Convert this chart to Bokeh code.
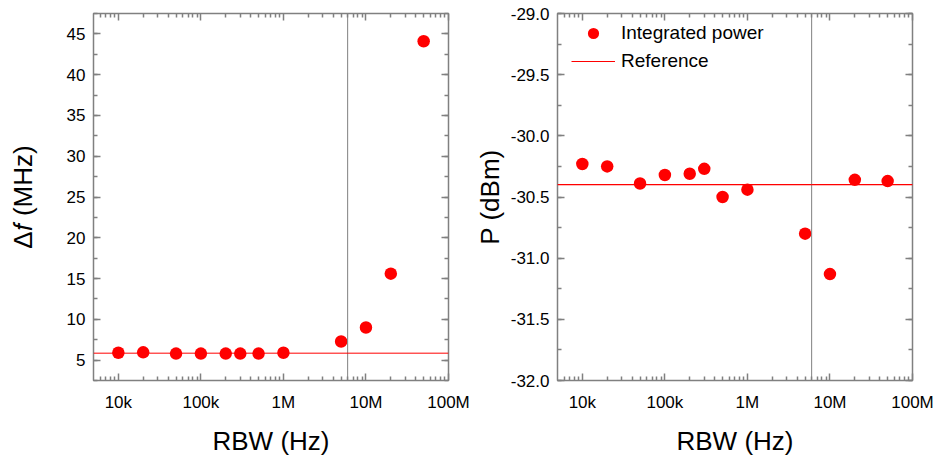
from bokeh.plotting import figure
from bokeh.layouts import row
from bokeh.models import (LogAxis, LinearAxis, FixedTicker, SingleIntervalTicker,
                          Range1d, Legend, LegendItem, NumeralTickFormatter,
                          CustomJSTickFormatter, Span)
from bokeh.embed import file_html
from bokeh.resources import INLINE

# ---------------- data ----------------
rbw_hz = [1e4, 2e4, 5e4, 1e5, 2e5, 3e5, 5e5, 1e6, 5e6, 1e7, 2e7, 5e7]
delta_f_mhz = [5.9, 5.95, 5.8, 5.8, 5.8, 5.8, 5.8, 5.9, 7.28, 9.0, 15.6, 44.1]
power_dbm = [-30.23, -30.25, -30.39, -30.32, -30.31, -30.27, -30.50, -30.44,
             -30.80, -31.13, -30.36, -30.37]
delta_f_ref = 5.85
power_ref = -30.40
rbw_cutoff = 6e6

x_tick_values = [1e4, 1e5, 1e6, 1e7, 1e8]
x_tick_labels = ["10k", "100k", "1M", "10M", "100M"]

X_RANGE = (5e3, 1e8)
FONT = "Liberation Sans"
GRAY = "#808080"
RED = "#ff0000"

minor_x = [m * 10 ** e for e in range(3, 8) for m in range(2, 10)
           if X_RANGE[0] < m * 10 ** e < X_RANGE[1]]


def x_ticker():
    return FixedTicker(ticks=x_tick_values, minor_ticks=minor_x)


def style_axis(ax, hidden=False):
    ax.axis_line_color = None
    ax.major_tick_line_color = GRAY
    ax.minor_tick_line_color = GRAY
    ax.major_tick_line_width = 1.5
    ax.minor_tick_line_width = 1.5
    ax.major_tick_in = 7
    ax.major_tick_out = 0
    ax.minor_tick_in = 4
    ax.minor_tick_out = 0
    ax.major_label_text_font = FONT
    ax.major_label_text_color = "black"
    ax.axis_label_text_font = FONT
    ax.axis_label_text_font_style = "normal"
    ax.axis_label_text_color = "black"
    if hidden:
        ax.formatter = CustomJSTickFormatter(code="return ''")
        ax.major_label_text_font_size = "1px"
        ax.major_label_standoff = 0


def make_fig(width, min_left, min_right, y_range, y_ticker, y_label,
             y_label_standoff, y_formatter=None):
    p = figure(width=width, height=458, x_axis_type="log",
               x_range=Range1d(*X_RANGE), y_range=y_range,
               output_backend="svg", toolbar_location=None,
               min_border_left=min_left, min_border_right=min_right,
               min_border_top=13, min_border_bottom=73)
    p.grid.visible = False
    p.outline_line_color = GRAY
    p.outline_line_width = 1.5
    p.background_fill_color = "white"
    p.border_fill_color = "white"

    xa = p.xaxis[0]
    xa.ticker = x_ticker()
    xa.major_label_overrides = dict(zip(x_tick_values, x_tick_labels))
    xa.axis_label = "RBW (Hz)"
    style_axis(xa)
    xa.major_label_text_font_size = "17px"
    xa.axis_label_text_font_size = "26px"
    xa.major_label_standoff = 12
    xa.axis_label_standoff = 11

    ya = p.yaxis[0]
    ya.ticker = y_ticker
    if y_formatter is not None:
        ya.formatter = y_formatter
    ya.axis_label = y_label
    style_axis(ya)
    ya.major_label_text_font_size = "17px"
    ya.axis_label_text_font_size = "26px"
    ya.major_label_standoff = 8
    ya.axis_label_standoff = y_label_standoff

    top = LogAxis(ticker=x_ticker())
    style_axis(top, hidden=True)
    p.add_layout(top, "above")
    right = LinearAxis(ticker=SingleIntervalTicker(interval=y_ticker.interval,
                                                   num_minor_ticks=y_ticker.num_minor_ticks))
    style_axis(right, hidden=True)
    p.add_layout(right, "right")
    return p


# ---------------- left panel ----------------
p1 = make_fig(470, 93, 22, Range1d(2.5, 47.5),
              SingleIntervalTicker(interval=5, num_minor_ticks=2),
              "Δ𝑓 (MHz)", 26)
p1.add_layout(Span(location=rbw_cutoff, dimension="height",
                   line_color=GRAY, line_width=1))
p1.add_layout(Span(location=delta_f_ref, dimension="width",
                   line_color=RED, line_width=1))
p1.scatter(rbw_hz, delta_f_mhz, size=12.5, color=RED, line_color=None)

# ---------------- right panel ----------------
p2 = make_fig(469, 87, 27, Range1d(-32.0, -29.0),
              SingleIntervalTicker(interval=0.5, num_minor_ticks=2),
              "P (dBm)", 3, NumeralTickFormatter(format="0.0"))
p2.add_layout(Span(location=rbw_cutoff, dimension="height",
                   line_color=GRAY, line_width=1))
# reference level as a glyph (gives the legend key) ...
ref_key = p2.hspan(y=[power_ref], line_color=RED, line_width=1)
pts_r = p2.scatter(rbw_hz, power_dbm, size=12.5, color=RED, line_color=None)
# ... and the same level drawn again as an annotation on top
p2.add_layout(Span(location=power_ref, dimension="width",
                   line_color=RED, line_width=1))

legend = Legend(items=[LegendItem(label="Integrated power", renderers=[pts_r]),
                       LegendItem(label="Reference", renderers=[ref_key])],
                location=(14, 305))
legend.border_line_color = None
legend.background_fill_alpha = 0
legend.margin = 0
legend.padding = 0
legend.glyph_width = 44
legend.glyph_height = 28
legend.label_height = 28
legend.spacing = 0
legend.label_standoff = 6
legend.label_text_font = FONT
legend.label_text_font_size = "19px"
legend.label_text_color = "black"
p2.add_layout(legend)

layout = row(p1, p2)
open("out.html", "w").write(file_html(layout, INLINE))
